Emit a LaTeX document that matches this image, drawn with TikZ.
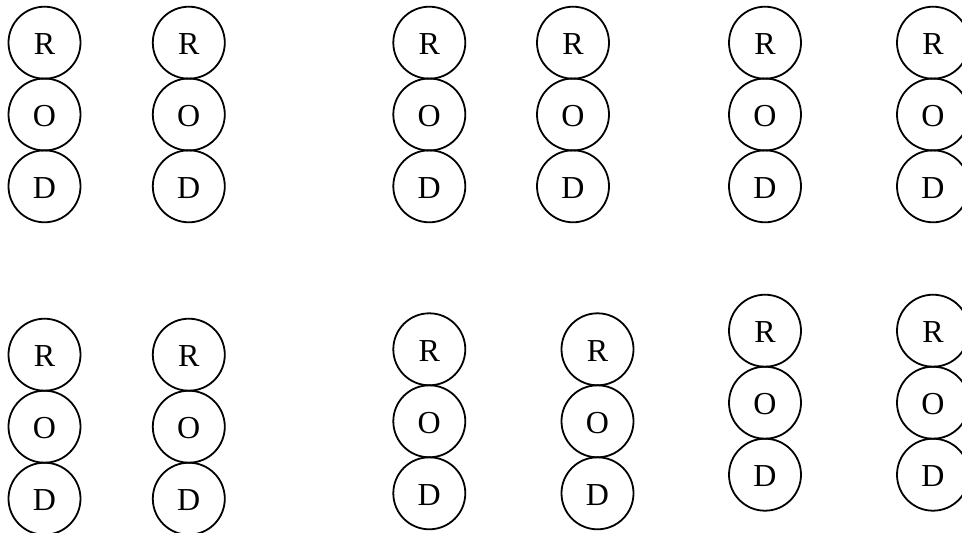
\documentclass[tikz,border=0pt]{standalone}
\usepackage{fontspec}
\setmainfont{Liberation Serif}
\begin{document}
\begin{tikzpicture}[x=1pt,y=-1pt,
  rodcircle/.style={circle,draw,line width=1.8pt,minimum size=72pt,inner sep=0pt,
    font=\fontsize{32}{38}\selectfont,text height=24pt,text depth=0pt}]
\useasboundingbox[fill=white] (0,0) rectangle (962,533);
% top row
\foreach \n/\x in {a/44.5,b/188.8,c/429.3,d/573,e/765,f/933}{
  \node[rodcircle] (\n R) at (\x,42.7) {R};
  \node[rodcircle] (\n O) at (\x,114.5) {O};
  \node[rodcircle] (\n D) at (\x,186.3) {D};
}
% bottom row
\foreach \n/\x/\y in {g/44.5/354.7,h/188.8/354.7,i/429.3/349.3,j/597.5/349.3,k/765/330.7,l/933/330.7}{
  \node[rodcircle] (\n R) at (\x,\y) {R};
  \node[rodcircle] (\n O) at (\x,\y+72) {O};
  \node[rodcircle] (\n D) at (\x,\y+144) {D};
}
\end{tikzpicture}
\end{document}
